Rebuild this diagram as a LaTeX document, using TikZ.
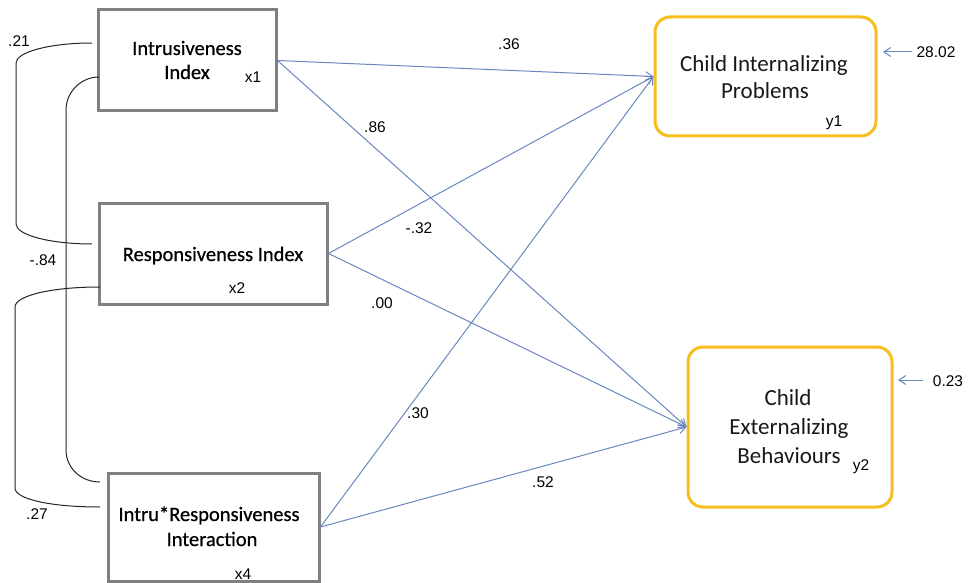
\documentclass[tikz,border=0pt]{standalone}
\usepackage{fontspec}
\setmainfont{Carlito}
\newfontfamily\boldishfont[FakeBold=0.6]{Carlito}
\newfontfamily\labfont{Liberation Sans}
\usetikzlibrary{arrows.meta,calc}
\definecolor{boxgray}{RGB}{128,128,128}
\definecolor{boxyellow}{RGB}{246,190,30}
\definecolor{pathblue}{RGB}{105,135,190}
\begin{document}
\begin{tikzpicture}[x=1pt,y=-1pt,
  gbox/.style={draw=boxgray,line width=3pt,fill=white,inner sep=0pt},
  ybox/.style={draw=boxyellow,line width=3pt,rounded corners=15pt,fill=white,inner sep=0pt},
  ltext/.style={anchor=base,inner sep=0pt,font=\boldishfont\fontsize{20.5}{24}\selectfont},
  rtext/.style={anchor=base,inner sep=0pt,text=black!90,font=\fontsize{23}{28}\selectfont},
  lab/.style={anchor=base,inner sep=0pt,font=\labfont\fontsize{15.5}{18}\selectfont},
  path/.style={draw=pathblue,line width=1pt,-{Straight Barb[length=7pt,width=9pt,line width=1pt]}},
  cov/.style={draw=black!85,line width=1pt}
]
\useasboundingbox (0,0) rectangle (972,583);
% boxes
\node[gbox,minimum width=178pt,minimum height=101pt] (x1) at (187,60.5) {};
\node[gbox,minimum width=228pt,minimum height=101pt] (x2) at (213,253.5) {};
\node[gbox,minimum width=211pt,minimum height=108pt] (x4) at (213.5,527) {};
\node[ybox,minimum width=221pt,minimum height=119pt] (y1) at (765.5,76.5) {};
\node[ybox,minimum width=204pt,minimum height=160pt] (y2) at (790,427) {};
% box texts
\node[ltext] (t1a) at (187,55) {Intrusiveness};
\node[ltext] (t1b) at (187,79) {Index};
\node[lab] (l1) at (253,83) {x1};
\node[ltext] (t2) at (213,261) {Responsiveness Index};
\node[lab] (l2) at (237,293) {x2};
\node[ltext] (t4a) at (209,521) {Intru*Responsiveness};
\node[ltext] (t4b) at (212,546) {Interaction};
\node[lab] (l4) at (243,579) {x4};
\node[rtext] (u1a) at (764,72) {Child Internalizing};
\node[rtext] (u1b) at (765,99) {Problems};
\node[lab] (m1) at (834,127) {y1};
\node[rtext] (u2a) at (788,405) {Child};
\node[rtext] (u2b) at (789,434) {Externalizing};
\node[rtext] (u2c) at (789,463) {Behaviours};
\node[lab] (m2) at (861,470) {y2};
% paths
\draw[path] (x1.east) -- (y1.west);
\draw[path] (x1.east) -- (y2.west);
\draw[path] (x2.east) -- (y1.west);
\draw[path] (x2.east) -- (y2.west);
\draw[path] (x4.east) -- (y1.west);
\draw[path] (x4.east) -- (y2.west);
% path labels
\node[lab] (p1) at (509,50) {.36};
\node[lab] (p2) at (375,133) {.86};
\node[lab] (p3) at (419,233) {-.32};
\node[lab] (p4) at (382,308) {.00};
\node[lab] (p5) at (418,418) {.30};
\node[lab] (p6) at (543,487) {.52};
% residuals
\node[lab] (e1) at (936,58) {28.02};
\node[lab] (e2) at (948,386) {0.23};
\coordinate (e1s) at (912,52);
\coordinate (e1t) at (883,52);
\coordinate (e2s) at (923,380);
\coordinate (e2t) at (898,380);
\draw[path] (e1s) -- (e1t);
\draw[path] (e2s) -- (e2t);
% covariances
\coordinate (c1a) at (92,43);
\coordinate (c1b) at (92,244);
\coordinate (c2a) at (99,77);
\coordinate (c2b) at (100,482);
\coordinate (c3a) at (100,287);
\coordinate (c3b) at (100,507);
\draw[cov] (c1a) .. controls (50,43) and (16,52) .. (16,63) -- (16,224) .. controls (16,235) and (50,244) .. (c1b);
\draw[cov] (c2a) .. controls (81,77) and (66,92) .. (66,110) -- (66,450) .. controls (66,468) and (81,482) .. (c2b);
\draw[cov] (c3a) .. controls (50,287) and (15,296) .. (15,307) -- (15,488) .. controls (15,499) and (50,507) .. (c3b);
\node[lab] (k1) at (19,47) {.21};
\node[lab] (k2) at (43,265) {-.84};
\node[lab] (k3) at (37,519) {.27};
\end{tikzpicture}
\end{document}
